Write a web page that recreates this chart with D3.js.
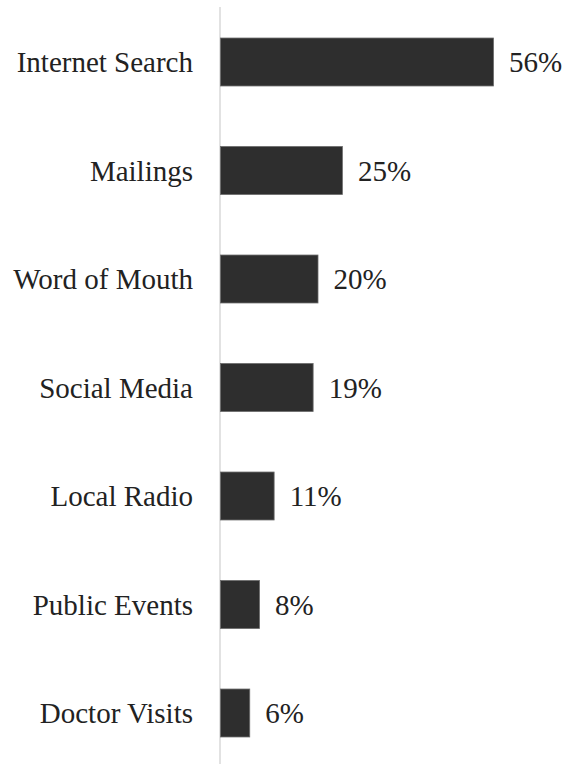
<!DOCTYPE html>
<html>
<head>
<meta charset="utf-8">
<script src="https://cdn.jsdelivr.net/npm/d3@7"></script>
<style>
  html, body { margin: 0; padding: 0; background: #fff; }
  svg { display: block; }
  text { font-family: "Liberation Serif", "Times New Roman", Tinos, "DejaVu Serif", serif; }
</style>
</head>
<body>
<script>
const categories = ["Internet Search", "Mailings", "Word of Mouth", "Social Media", "Local Radio", "Public Events", "Doctor Visits"];
const values = [56, 25, 20, 19, 11, 8, 6];
const valueLabels = ["56%", "25%", "20%", "19%", "11%", "8%", "6%"];

const W = 567, H = 764;
const svg = d3.select("body").append("svg").attr("width", W).attr("height", H);

const x = d3.scaleLinear().domain([0, 56]).range([220, 493]);
const y = d3.scaleBand().domain(categories).range([7.75, 767.25])
  .paddingInner(0.558).paddingOuter(0.279);

const data = categories.map((c, i) => ({ c, v: values[i], l: valueLabels[i] }));

// axis line
svg.append("line")
  .attr("x1", x(0)).attr("x2", x(0))
  .attr("y1", 7).attr("y2", H)
  .attr("stroke", "#d9d9d9").attr("stroke-width", 1.5);

svg.selectAll("rect.bar").data(data).enter().append("rect")
  .attr("class", "bar")
  .attr("x", x(0) + 0.5)
  .attr("y", d => y(d.c))
  .attr("width", d => x(d.v) - x(0))
  .attr("height", y.bandwidth())
  .attr("fill", "#2e2e2e")
  .attr("stroke", "#6a6a6a").attr("stroke-width", 0.8);

svg.selectAll("text.cat").data(data).enter().append("text")
  .attr("class", "cat")
  .attr("x", x(0) - 27)
  .attr("y", d => y(d.c) + y.bandwidth() / 2)
  .attr("dy", "0.35em")
  .attr("text-anchor", "end")
  .attr("font-size", 29)
  .attr("fill", "#222")
  .text(d => d.c);

svg.selectAll("text.val").data(data).enter().append("text")
  .attr("class", "val")
  .attr("x", d => x(d.v) + 16)
  .attr("y", d => y(d.c) + y.bandwidth() / 2)
  .attr("dy", "0.35em")
  .attr("text-anchor", "start")
  .attr("font-size", 29)
  .attr("fill", "#222")
  .text(d => d.l);
</script>
</body>
</html>
